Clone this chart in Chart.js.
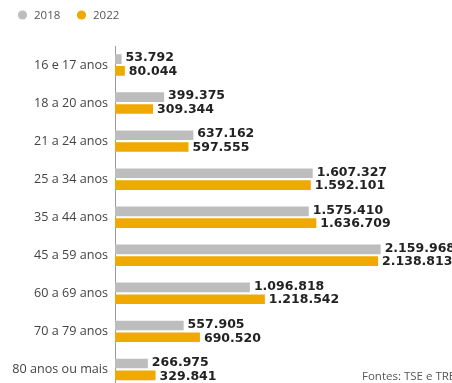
<!DOCTYPE html>
<html>
<head>
<meta charset="utf-8">
<script src="https://cdn.jsdelivr.net/npm/chart.js@4/dist/chart.umd.min.js"></script>
<style>
html, body { margin: 0; padding: 0; overflow: hidden; background: #fff; }
</style>
</head>
<body>
<canvas id="grafico" width="452" height="396"></canvas>
<script>
// Eleitores por faixa etária - 2018 x 2022
var faixas = ['16 e 17 anos', '18 a 20 anos', '21 a 24 anos', '25 a 34 anos', '35 a 44 anos',
              '45 a 59 anos', '60 a 69 anos', '70 a 79 anos', '80 anos ou mais'];
var anos = ['2018', '2022'];
var eleitores2018 = [53792, 399375, 637162, 1607327, 1575410, 2159968, 1096818, 557905, 266975];
var eleitores2022 = [80044, 309344, 597555, 1592101, 1636709, 2138813, 1218542, 690520, 329841];
var fonte = 'Fontes: TSE e TRE';

var cores = ['#bdbdbd', '#efa900'];

// formata 1234567 -> 1.234.567
var formata = function(n) {
    return n.toString().replace(/\B(?=(\d{3})+(?!\d))/g, '.');
};

// rótulos de valor na ponta das barras
var rotulos = {
    id: 'rotulos',
    afterDatasetsDraw: function(chart) {
        var ctx = chart.ctx;
        ctx.save();
        ctx.font = 'bold 12.5px "DejaVu Sans"';
        ctx.fillStyle = '#222';
        ctx.textBaseline = 'middle';
        ctx.textAlign = 'left';
        chart.data.datasets.forEach(function(ds, i) {
            var meta = chart.getDatasetMeta(i);
            meta.data.forEach(function(bar, j) {
                var dy = i === 0 ? -1 : 1;
                ctx.fillText(formata(ds.data[j]), bar.x + 4, bar.y + dy);
            });
        });
        ctx.restore();
    }
};

// legenda no topo e fonte no rodapé
var extras = {
    id: 'extras',
    afterDraw: function(chart) {
        var ctx = chart.ctx;
        ctx.save();
        var xs = [22.5, 81.5];
        ctx.font = '11.5px "Open Sans"';
        ctx.textBaseline = 'middle';
        anos.forEach(function(a, i) {
            ctx.fillStyle = cores[i];
            ctx.beginPath();
            ctx.arc(xs[i], 15, 4.6, 0, Math.PI * 2);
            ctx.fill();
            ctx.fillStyle = '#555';
            ctx.fillText(a, xs[i] + 11.5, 15.5);
        });
        ctx.fillStyle = '#555';
        ctx.fillText(fonte, 362, 377);
        ctx.restore();
    }
};

var ctx1 = document.getElementById('grafico').getContext('2d');
var grafico = new Chart(ctx1, {
    type: 'bar',
    data: {
        labels: faixas,
        datasets: [
            { label: anos[0], data: eleitores2018, backgroundColor: cores[0] },
            { label: anos[1], data: eleitores2022, backgroundColor: cores[1] }
        ]
    },
    options: {
        indexAxis: 'y',
        responsive: false,
        animation: false,
        devicePixelRatio: 1,
        layout: { padding: { top: 46, left: 0, right: 0, bottom: 0 } },
        categoryPercentage: 0.62,
        barPercentage: 0.82,
        scales: {
            x: { display: false, min: 0, max: 2740000 },
            y: {
                grid: { display: false, drawTicks: true, tickLength: 7 },
                border: { display: true, color: '#999', width: 1 },
                ticks: { color: '#444', padding: 0, font: { family: 'Open Sans', size: 12.6 } },
                afterFit: function(scale) { scale.width = 115; }
            }
        },
        plugins: {
            legend: { display: false },
            tooltip: { enabled: false }
        }
    },
    plugins: [rotulos, extras]
});
</script>
</body>
</html>
